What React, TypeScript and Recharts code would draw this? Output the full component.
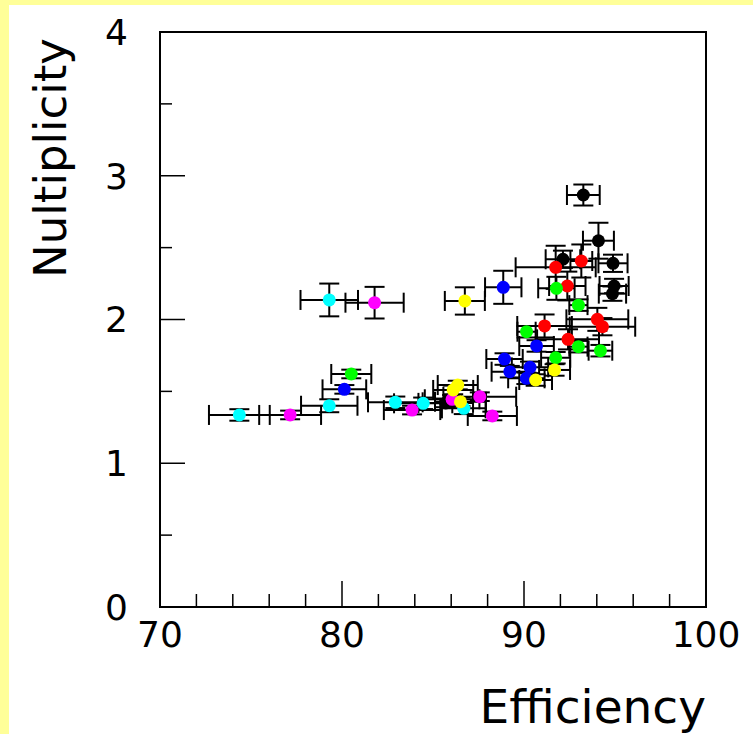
import React from "react";
import {
  ScatterChart,
  Scatter,
  XAxis,
  YAxis,
  ErrorBar,
  ReferenceArea,
  Label,
} from "recharts";

// [efficiency, multiplicity, efficiency error, multiplicity error]
const blackPoints = [
  [93.26, 2.866, 0.9, 0.073],
  [94.09, 2.548, 0.85, 0.125],
  [92.14, 2.419, 0.95, 0.06],
  [94.89, 2.391, 0.8, 0.06],
  [94.95, 2.233, 0.8, 0.05],
  [94.86, 2.18, 0.75, 0.05],
  [85.7, 1.42, 1.5, 0.03],
];
const redPoints = [
  [93.15, 2.407, 0.6, 0.115],
  [91.74, 2.363, 2.2, 0.15],
  [92.38, 2.233, 1.0, 0.1],
  [94.03, 2.001, 1.7, 0.08],
  [94.31, 1.95, 1.8, 0.06],
  [91.13, 1.955, 1.5, 0.08],
  [92.42, 1.862, 1.7, 0.07],
];
const greenPoints = [
  [91.78, 2.217, 1.0, 0.08],
  [92.99, 2.1, 0.5, 0.04],
  [90.14, 1.915, 0.5, 0.04],
  [92.99, 1.811, 0.5, 0.04],
  [94.2, 1.783, 0.65, 0.04],
  [91.74, 1.734, 0.8, 0.04],
  [80.51, 1.621, 1.1, 0.03],
];
const bluePoints = [
  [88.86, 2.224, 1.0, 0.115],
  [90.69, 1.816, 0.95, 0.04],
  [88.93, 1.725, 1.0, 0.04],
  [90.33, 1.667, 1.0, 0.04],
  [89.22, 1.637, 1.0, 0.04],
  [90.13, 1.591, 1.0, 0.04],
  [80.13, 1.514, 1.2, 0.03],
];
const cyanPoints = [
  [79.3, 2.136, 1.58, 0.114],
  [79.3, 1.4, 1.55, 0.045],
  [74.36, 1.336, 1.67, 0.04],
  [82.93, 1.424, 1.5, 0.04],
  [84.46, 1.417, 1.6, 0.04],
  [86.69, 1.382, 1.2, 0.04],
];
const magentaPoints = [
  [81.79, 2.117, 1.6, 0.11],
  [77.15, 1.336, 1.7, 0.03],
  [83.85, 1.37, 1.55, 0.03],
  [86.05, 1.445, 1.5, 0.03],
  [87.57, 1.463, 2.0, 0.03],
  [88.26, 1.329, 1.35, 0.03],
];
const yellowPoints = [
  [86.75, 2.129, 1.1, 0.095],
  [91.68, 1.649, 0.85, 0.04],
  [90.64, 1.579, 0.9, 0.04],
  [86.36, 1.544, 1.1, 0.03],
  [86.11, 1.51, 1.1, 0.03],
  [86.51, 1.428, 1.4, 0.03],
];

const xTicks = [70, 72, 74, 76, 78, 80, 82, 84, 86, 88, 90, 92, 94, 96, 98, 100];
const yTicks = [0, 0.5, 1, 1.5, 2, 2.5, 3, 3.5, 4];

const FONT = "'DejaVu Sans', sans-serif";

const series = [
  { name: "black", color: "#000000", points: blackPoints },
  { name: "red", color: "#ff0000", points: redPoints },
  { name: "green", color: "#00ff00", points: greenPoints },
  { name: "blue", color: "#0000ff", points: bluePoints },
  { name: "cyan", color: "#00ffff", points: cyanPoints },
  { name: "magenta", color: "#ff00ff", points: magentaPoints },
  { name: "yellow", color: "#ffff00", points: yellowPoints },
];

const toRows = (pts: number[][]) =>
  pts.map(([x, y, ex, ey]) => ({ x, y, ex, ey }));

function XTick(props: any) {
  const { x, y, payload } = props;
  const major = payload.value % 10 === 0;
  return (
    <g>
      <line x1={x} x2={x} y1={y} y2={y - (major ? 26 : 13)} stroke="#000" strokeWidth={1.5} />
      {major && (
        <text x={x} y={y + 40} textAnchor="middle" fontSize={36} fontFamily={FONT} fill="#000">
          {payload.value}
        </text>
      )}
    </g>
  );
}

function YTick(props: any) {
  const { x, y, payload } = props;
  const major = Number.isInteger(payload.value);
  return (
    <g>
      <line x1={x} x2={x + (major ? 25 : 12)} y1={y} y2={y} stroke="#000" strokeWidth={1.5} />
      {major && (
        <text x={x - 32} y={y} dy="0.36em" textAnchor="end" fontSize={36} fontFamily={FONT} fill="#000">
          {payload.value}
        </text>
      )}
    </g>
  );
}

function Dot(props: any) {
  const { cx, cy, fill } = props;
  return <circle cx={cx} cy={cy} r={6.5} fill={fill} />;
}

export default function App() {
  return (
    <div style={{ position: "absolute", left: 0, top: 0, width: 753, height: 734, background: "#ffff99" }}>
      <div style={{ position: "absolute", left: 9, top: 5, right: 0, bottom: 0, background: "#ffffff" }} />
      <div style={{ position: "absolute", left: 0, top: 0 }}>
        <ScatterChart width={753} height={734} margin={{ top: 32, right: 47, bottom: 0, left: 0 }}>
          <XAxis
            type="number"
            dataKey="x"
            domain={[70, 100]}
            ticks={xTicks}
            interval={0}
            allowDataOverflow
            height={127}
            tickSize={0}
            tickMargin={0}
            tickLine={false}
            axisLine={{ stroke: "#000", strokeWidth: 2 }}
            tick={<XTick />}
          >
            <Label
              content={(p: any) => {
                const vb = p.viewBox || { x: 160, y: 607, width: 546 };
                return (
                  <text x={vb.x + vb.width} y={vb.y + 116} textAnchor="end" fontSize={47} fontFamily={FONT} fill="#000">
                    Efficiency
                  </text>
                );
              }}
            />
          </XAxis>
          <YAxis
            type="number"
            dataKey="y"
            domain={[0, 4]}
            ticks={yTicks}
            interval={0}
            allowDataOverflow
            width={160}
            tickSize={0}
            tickMargin={0}
            tickLine={false}
            axisLine={{ stroke: "#000", strokeWidth: 2 }}
            tick={<YTick />}
          >
            <Label
              content={(p: any) => {
                const vb = p.viewBox || { x: 0, y: 32 };
                const cx = vb.x + 50;
                const cy = vb.y + 126;
                return (
                  <text
                    x={cx}
                    y={cy}
                    transform={`rotate(-90 ${cx} ${cy})`}
                    textAnchor="middle"
                    dominantBaseline="central"
                    fontSize={45}
                    fontFamily={FONT}
                    fill="#000"
                  >
                    Nultiplicity
                  </text>
                );
              }}
            />
          </YAxis>
          <ReferenceArea x1={70} x2={100} y1={0} y2={4} fill="none" stroke="#000" strokeWidth={2} />
          {series.map((s) => (
            <Scatter
              key={s.name}
              name={s.name}
              data={toRows(s.points)}
              fill={s.color}
              shape={<Dot />}
              isAnimationActive={false}
            >
              <ErrorBar dataKey="ex" direction="x" width={10} stroke="#000" strokeWidth={2} />
              <ErrorBar dataKey="ey" direction="y" width={10} stroke="#000" strokeWidth={2} />
            </Scatter>
          ))}
        </ScatterChart>
      </div>
    </div>
  );
}
